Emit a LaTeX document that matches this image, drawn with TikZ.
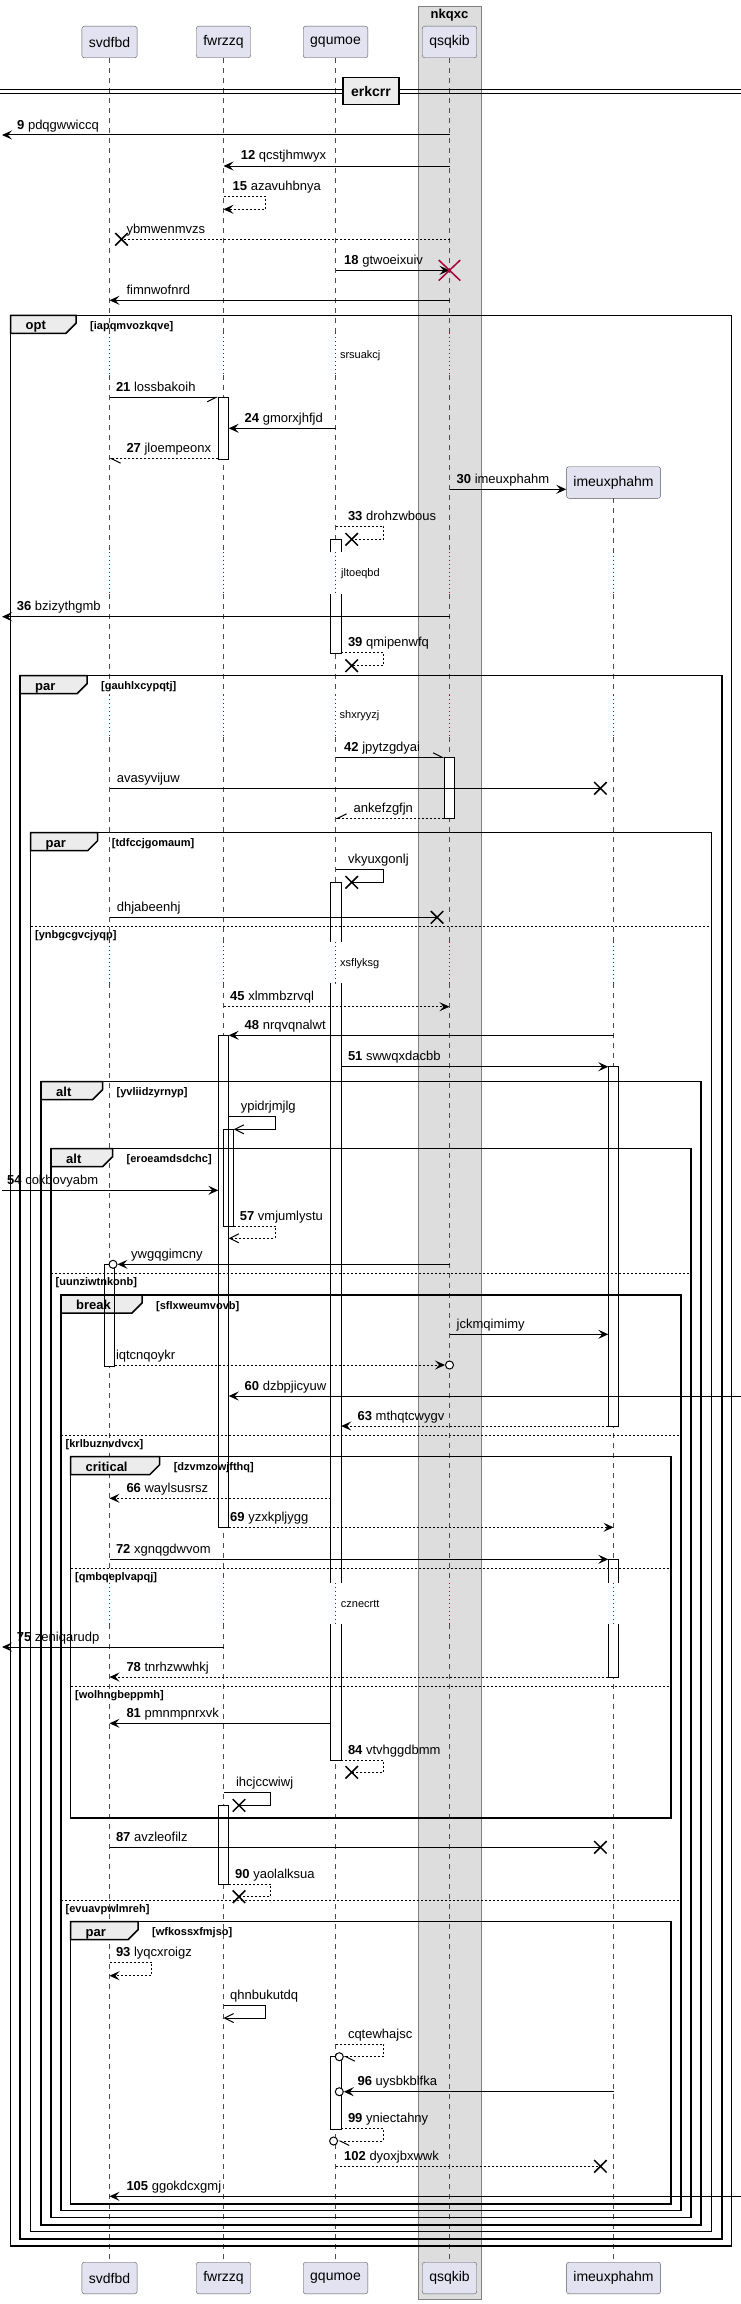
\documentclass[tikz,border=0pt]{standalone}
\usepackage{fontspec}
\setmainfont{Liberation Sans}
\usetikzlibrary{arrows.meta,shapes.misc}
\definecolor{ptfill}{RGB}{226,226,240}
\definecolor{delayred}{RGB}{168,0,54}
\definecolor{boxgray}{RGB}{221,221,221}
\begin{document}
\begin{tikzpicture}[x=1pt, y=-1pt,
    ptbox/.style={draw=gray!70!black, fill=ptfill, rounded corners=2.5pt, minimum height=31.6pt, inner xsep=7pt, inner ysep=0pt, font=\fontsize{14}{16}\selectfont},
    lifeline/.style={draw=gray!60!black, line width=0.7pt, dash pattern=on 5pt off 5pt},
    delayline/.style={draw=delayred, line width=0.8pt, dash pattern=on 1pt off 3pt},
    actfill/.style={fill=white, minimum width=10pt, inner sep=0pt, anchor=north},
    actline/.style={draw, line width=1pt},
    msg/.style={line width=1pt, -{Stealth[length=10pt,width=9pt,inset=4pt]}},
    ret/.style={msg, dash pattern=on 2pt off 2pt},
    link/.style={line width=1pt},
    retlink/.style={link, dash pattern=on 2pt off 2pt},
    openmsg/.style={line width=1pt, -{Straight Barb[length=9pt,width=9pt]}},
    hl/.style={line width=1pt, -{Straight Barb[harpoon,length=9pt,width=9pt]}},
    hr/.style={line width=1pt, -{Straight Barb[harpoon,swap,length=9pt,width=9pt]}},
    xmk/.style={cross out, draw, line width=1.5pt, minimum width=11pt, minimum height=11pt, inner sep=0pt},
    xred/.style={xmk, draw=delayred, minimum width=20pt, minimum height=19pt},
    circ/.style={circle, draw, fill=white, line width=1pt, minimum size=8pt, inner sep=0pt},
    lbl/.style={anchor=base west, inner sep=0pt, font=\fontsize{13}{15}\selectfont},
    delaytxt/.style={anchor=west, inner sep=0pt, font=\fontsize{11}{13}\selectfont},
    grp/.style={draw, line width=1.5pt},
    grptab/.style={draw, line width=1.5pt, fill=gray!15},
    grplbl/.style={anchor=base west, inner sep=0pt, font=\bfseries\fontsize{13}{15}\selectfont},
    guard/.style={anchor=base west, inner sep=0pt, font=\bfseries\fontsize{11}{13}\selectfont},
    elseline/.style={line width=1pt, dash pattern=on 2pt off 2pt}]
\useasboundingbox (0,0) rectangle (741,2304);
\coordinate (edgeL) at (2,0);
\coordinate (edgeR) at (741,0);

% box round qsqkib
\draw[fill=boxgray, draw=gray] (418,6) rectangle (481,2299);
\node[font=\bfseries\fontsize{13}{15}\selectfont] (nkqxc) at (449.5,15) {nkqxc};

% participants
\node[ptbox] (svdfbd) at (109.5,42) {svdfbd};
\node[ptbox] (fwrzzq) at (223.5,42) {fwrzzq};
\node[ptbox] (gqumoe) at (335.5,42) {gqumoe};
\node[ptbox] (qsqkib) at (449.5,42) {qsqkib};
\node[ptbox] (imeuxphahm) at (613.5,482.5) {imeuxphahm};

% lifelines, dotted where the delays are
\foreach \p in {svdfbd,fwrzzq,gqumoe,qsqkib} {
  \foreach \ya/\yb in {57.8/333.3,375/551.7,594/695,737/941.7,983.3/1582.7,1624/2262}
    \draw[lifeline] (\p |- 0,\ya) -- (\p |- 0,\yb);
  \draw[delayline] (\p |- 0,333.3) -- (\p |- 0,375);
}
\foreach \p in {svdfbd,fwrzzq,gqumoe,qsqkib,imeuxphahm}
  \foreach \ya/\yb in {551.7/594,695/737,941.7/983.3,1582.7/1624}
    \draw[delayline] (\p |- 0,\ya) -- (\p |- 0,\yb);
\foreach \ya/\yb in {498.3/551.7,594/695,737/941.7,983.3/1582.7,1624/2262}
  \draw[lifeline] (imeuxphahm |- 0,\ya) -- (imeuxphahm |- 0,\yb);

\node[ptbox] (svdfbdB) at (109.5,2278) {svdfbd};
\node[ptbox] (fwrzzqB) at (223.5,2278) {fwrzzq};
\node[ptbox] (gqumoeB) at (335.5,2278) {gqumoe};
\node[ptbox] (qsqkibB) at (449.5,2278) {qsqkib};
\node[ptbox] (imeuxphahmB) at (613.5,2278) {imeuxphahm};

% divider
\draw[line width=1pt] (0,89.3) -- (741,89.3) (0,93.3) -- (741,93.3);
\node[draw, line width=1.5pt, fill=gray!15, minimum width=56pt, minimum height=26.6pt, inner sep=0pt, font=\bfseries\fontsize{14}{16}\selectfont] (erkcrr) at (371,91) {erkcrr};

% activations
\node[actfill, minimum height=61.4pt] (aF1) at (fwrzzq |- 0,397.3) {};
\node[actfill, minimum height=12.4pt] (aG1a) at (336,539.3) {};
\node[actfill, minimum height=59.3pt] (aG1b) at (336,594) {};
\node[actfill, minimum height=61pt] (aQ1) at (qsqkib |- 0,757.3) {};
\node[actfill, minimum height=59.4pt] (aG2a) at (336,882.3) {};
\node[actfill, minimum height=599.4pt] (aG2b) at (336,983.3) {};
\node[actfill, minimum height=136.3pt] (aG2c) at (336,1624) {};
\node[actfill, minimum height=492pt] (aF2) at (fwrzzq |- 0,1035.3) {};
\node[actfill, minimum height=96.7pt] (aF3) at (228.5,1129.3) {};
\node[actfill, minimum height=359.3pt] (aI1) at (imeuxphahm |- 0,1066.7) {};
\node[actfill, minimum height=102pt] (aS1) at (svdfbd |- 0,1264) {};
\node[actfill, minimum height=23.4pt] (aI2a) at (imeuxphahm |- 0,1559.3) {};
\node[actfill, minimum height=53pt] (aI2b) at (imeuxphahm |- 0,1624) {};
\node[actfill, minimum height=78.3pt] (aF4) at (fwrzzq |- 0,1805.7) {};
\node[actfill, minimum height=72.3pt] (aG3) at (336,2056.7) {};

% groups
\foreach \i/\xa/\ya/\xb/\yb/\kw/\xt/\gd in {
    1/10.5/315.3/731.4/2246/opt/76/[iapqmvozkqve],
    2/20/675.7/722/2239/par/87/[gauhlxcypqtj],
    3/30.5/832.7/711.4/2231.7/par/97.7/[tdfccjgomaum],
    4/41/1081.7/701/2225/alt/102.5/[yvliidzyrnyp],
    5/51/1148.7/691/2217.7/alt/112.5/[eroeamdsdchc],
    6/61/1295/681/2210.7/break/142/[sflxweumvovb],
    7/70.5/1456.7/671/1818/critical/159.6/[dzvmzowjfthq],
    8/70.5/1921.7/671/2204/par/138/[wfkossxfmjso]} {
  \draw[grp] (\xa,\ya) rectangle (\xb,\yb);
  \filldraw[grptab] (\xa,\ya) -- (\xt,\ya) -- (\xt,\ya+8) -- (\xt-10,\ya+18) -- (\xa,\ya+18) -- cycle;
  \node[grplbl] (kw\i) at (\xa+15,\ya+14.5) {\kw};
  \node[guard] (gd\i) at (\xt+14,\ya+14) {\gd};
}
\foreach \i/\xa/\xb/\ye/\gd in {
    1/30.5/711.4/926/[ynbgcgvcjyqp],
    2/51/691/1273/[uunziwtnkonb],
    3/61/681/1435/[krlbuznvdvcx],
    4/70.5/671/1568.3/[qmbqeplvapqj],
    5/70.5/671/1686/[wolhngbeppmh],
    6/61/681/1900.7/[evuavpwlmreh]} {
  \draw[elseline] (\xa,\ye) -- (\xb,\ye);
  \node[guard] (el\i) at (\xa+4.5,\ye+12) {\gd};
}

% activation outlines
\foreach \a in {aF1,aQ1,aF2,aF3,aI1,aS1,aF4,aG3}
  \draw[actline] (\a.north west) rectangle (\a.south east);
\foreach \a in {aG1a,aG2a,aI2a}
  \draw[actline] (\a.south west) -- (\a.north west) -- (\a.north east) -- (\a.south east);
\foreach \a in {aG1b,aG2c,aI2b}
  \draw[actline] (\a.north west) -- (\a.south west) -- (\a.south east) -- (\a.north east);
\draw[actline] (aG2b.north west) -- (aG2b.south west) (aG2b.north east) -- (aG2b.south east);

% messages
\draw[msg] (qsqkib |- 0,135) -- (edgeL |- 0,135);
\node[lbl] (m9) at (17,129) {\textbf{9} pdqgwwiccq};
\draw[msg] (qsqkib |- 0,166) -- (fwrzzq |- 0,166);
\node[lbl] (m12) at (240.6,160) {\textbf{12} qcstjhmwyx};
\draw[ret] (fwrzzq |- 0,196) -- ++(41.5,0) -- ++(0,13.3) -- (fwrzzq |- 0,209.3);
\node[lbl] (m15) at (232.5,190) {\textbf{15} azavuhbnya};
\node[xmk] (xA) at (121.5,239.3) {};
\draw[retlink] (qsqkib |- 0,239.3) -- (xA.center);
\node[lbl] (ybmwenmvzs) at (126.3,233.3) {ybmwenmvzs};
\draw[msg] (gqumoe |- 0,270.3) -- (qsqkib |- 0,270.3);
\node[xred] (xQ) at (449.5,270.3) {};
\node[lbl] (m18) at (344,264.3) {\textbf{18} gtwoeixuiv};
\draw[msg] (qsqkib |- 0,300.3) -- (svdfbd |- 0,300.3);
\node[lbl] (fimnwofnrd) at (126.3,294.3) {fimnwofnrd};

\draw[hr] (svdfbd |- 0,397.3) -- (aF1.west |- 0,397.3);
\node[lbl] (m21) at (115.8,391.3) {\textbf{21} lossbakoih};
\draw[msg] (gqumoe |- 0,428.3) -- (aF1.east |- 0,428.3);
\node[lbl] (m24) at (244.5,422.3) {\textbf{24} gmorxjhfjd};
\draw[hl, dash pattern=on 2pt off 2pt] (aF1.west |- 0,458.7) -- (svdfbd |- 0,458.7);
\node[lbl] (m27) at (126.3,452.7) {\textbf{27} jloempeonx};
\draw[msg] (qsqkib |- 0,489.3) -- (imeuxphahm.west |- 0,489.3);
\node[lbl] (m30) at (456.5,483.3) {\textbf{30} imeuxphahm};
\node[xmk] (xB) at (351.7,539.3) {};
\draw[retlink] (gqumoe |- 0,526) -- ++(48,0) -- ++(0,13.3) -- (xB.center);
\node[lbl] (m33) at (347.8,520) {\textbf{33} drohzwbous};
\draw[msg] (qsqkib |- 0,616.7) -- (edgeL |- 0,616.7);
\node[lbl] (m36) at (16.7,610.7) {\textbf{36} bzizythgmb};
\node[xmk] (xC) at (351.7,665.7) {};
\draw[retlink] (aG1b.east |- 0,652.3) -- (383.6,652.3) -- (383.6,665.7) -- (xC.center);
\node[lbl] (m39) at (347.8,646.3) {\textbf{39} qmipenwfq};

\draw[hl] (gqumoe |- 0,757.3) -- (aQ1.west |- 0,757.3);
\node[lbl] (m42) at (344,751.3) {\textbf{42} jpytzgdyai};
\node[xmk] (xD) at (600.4,788.3) {};
\draw[link] (svdfbd |- 0,788.3) -- (xD.center);
\node[lbl] (avasyvijuw) at (116.7,782.3) {avasyvijuw};
\draw[hr, dash pattern=on 2pt off 2pt] (aQ1.west |- 0,818.3) -- (gqumoe |- 0,818.3);
\node[lbl] (ankefzgfjn) at (353.5,812.3) {ankefzgfjn};
\node[xmk] (xE) at (351.7,882.3) {};
\draw[link] (gqumoe |- 0,869.3) -- (383.6,869.3) -- (383.6,882.3) -- (xE.center);
\node[lbl] (vkyuxgonlj) at (347.8,863.3) {vkyuxgonlj};
\node[xmk] (xF) at (437,917.3) {};
\draw[link] (svdfbd |- 0,917.3) -- (xF.center);
\node[lbl] (dhjabeenhj) at (116.7,911.3) {dhjabeenhj};

\draw[ret] (fwrzzq |- 0,1006.7) -- (qsqkib |- 0,1006.7);
\node[lbl] (m45) at (230,1000.7) {\textbf{45} xlmmbzrvql};
\draw[msg] (imeuxphahm |- 0,1035.3) -- (aF2.east |- 0,1035.3);
\node[lbl] (m48) at (244.5,1029.3) {\textbf{48} nrqvqnalwt};
\draw[msg] (aG2b.east |- 0,1066.7) -- (aI1.west |- 0,1066.7);
\node[lbl] (m51) at (347.8,1060.7) {\textbf{51} swwqxdacbb};
\draw[openmsg] (aF2.east |- 0,1116) -- (275.4,1116) -- (275.4,1129.3) -- (aF3.east |- 0,1129.3);
\node[lbl] (ypidrjmjlg) at (240.6,1110) {ypidrjmjlg};
\draw[msg] (edgeL |- 0,1190.3) -- (aF2.west |- 0,1190.3);
\node[lbl] (m54) at (7,1184.3) {\textbf{54} cokbovyabm};
\draw[openmsg, dash pattern=on 2pt off 2pt] (aF3.east |- 0,1226) -- (275.4,1226) -- (275.4,1238.3) -- (aF2.east |- 0,1238.3);
\node[lbl] (m57) at (239.7,1220) {\textbf{57} vmjumlystu};
\node[circ] (cA) at (113,1264.3) {};
\draw[msg] (qsqkib |- 0,1264.3) -- (cA.east);
\node[lbl] (ywgqgimcny) at (131,1258.3) {ywgqgimcny};

\draw[msg] (qsqkib |- 0,1334.3) -- (aI1.west |- 0,1334.3);
\node[lbl] (jckmqimimy) at (456.5,1328.3) {jckmqimimy};
\node[circ] (cB) at (449.5,1365) {};
\draw[ret] (aS1.east |- 0,1365) -- (cB.west);
\node[lbl] (iqtcnqoykr) at (115.8,1359) {iqtcnqoykr};
\draw[msg] (edgeR |- 0,1396) -- (aF2.east |- 0,1396);
\node[lbl] (m60) at (244.5,1390) {\textbf{60} dzbpjicyuw};
\draw[ret] (aI1.west |- 0,1426) -- (aG2b.east |- 0,1426);
\node[lbl] (m63) at (357.4,1420) {\textbf{63} mthqtcwygv};

\draw[ret] (aG2b.west |- 0,1498.3) -- (svdfbd |- 0,1498.3);
\node[lbl] (m66) at (126.3,1492.3) {\textbf{66} waylsusrsz};
\draw[ret] (aF2.east |- 0,1527.3) -- (imeuxphahm |- 0,1527.3);
\node[lbl] (m69) at (230,1521.3) {\textbf{69} yzxkpljygg};
\draw[msg] (svdfbd |- 0,1559.3) -- (aI2a.west |- 0,1559.3);
\node[lbl] (m72) at (115.8,1553.3) {\textbf{72} xgnqgdwvom};
\draw[msg] (fwrzzq |- 0,1647) -- (edgeL |- 0,1647);
\node[lbl] (m75) at (16.7,1641) {\textbf{75} zeniqarudp};
\draw[ret] (aI2b.west |- 0,1677) -- (svdfbd |- 0,1677);
\node[lbl] (m78) at (126.3,1671) {\textbf{78} tnrhzwwhkj};
\draw[msg] (aG2c.west |- 0,1723.3) -- (svdfbd |- 0,1723.3);
\node[lbl] (m81) at (126.3,1717.3) {\textbf{81} pmnmpnrxvk};
\node[xmk] (xG) at (351.7,1772.3) {};
\draw[retlink] (aG2c.east |- 0,1760) -- (383.6,1760) -- (383.6,1772.3) -- (xG.center);
\node[lbl] (m84) at (347.8,1754) {\textbf{84} vtvhggdbmm};
\node[xmk] (xH) at (239,1805.3) {};
\draw[link] (fwrzzq |- 0,1792.7) -- (270.7,1792.7) -- (270.7,1805.3) -- (xH.center);
\node[lbl] (ihcjccwiwj) at (235.9,1786.7) {ihcjccwiwj};

\node[xmk] (xI) at (600.4,1847.3) {};
\draw[link] (svdfbd |- 0,1847.3) -- (xI.center);
\node[lbl] (m87) at (115.8,1841.3) {\textbf{87} avzleofilz};
\node[xmk] (xJ) at (239,1896.7) {};
\draw[retlink] (aF4.east |- 0,1884) -- (270.7,1884) -- (270.7,1896.7) -- (xJ.center);
\node[lbl] (m90) at (235,1878) {\textbf{90} yaolalksua};

\draw[ret] (svdfbd |- 0,1962.3) -- ++(42,0) -- ++(0,13.4) -- (svdfbd |- 0,1975.7);
\node[lbl] (m93) at (115.8,1956.3) {\textbf{93} lyqcxroigz};
\draw[openmsg] (fwrzzq |- 0,2005.3) -- ++(42,0) -- ++(0,12.7) -- (fwrzzq |- 0,2018);
\node[lbl] (qhnbukutdq) at (230,1999.3) {qhnbukutdq};
\node[circ] (cC) at (339.3,2056.7) {};
\draw[hl, dash pattern=on 2pt off 2pt] (gqumoe |- 0,2044.3) -- (383.6,2044.3) -- (383.6,2056.7) -- (cC.east);
\node[lbl] (cqtewhajsc) at (347.8,2038.3) {cqtewhajsc};
\node[circ] (cD) at (339.3,2091.7) {};
\draw[msg] (imeuxphahm |- 0,2091.7) -- (cD.east);
\node[lbl] (m96) at (357.4,2085.7) {\textbf{96} uysbkblfka};
\node[circ] (cE) at (333.6,2141) {};
\draw[hl, dash pattern=on 2pt off 2pt] (aG3.east |- 0,2128.7) -- (383.6,2128.7) -- (383.6,2141) -- (cE.east);
\node[lbl] (m99) at (347.8,2122.7) {\textbf{99} yniectahny};
\node[xmk] (xK) at (600.4,2166.3) {};
\draw[retlink] (gqumoe |- 0,2166.3) -- (xK.center);
\node[lbl] (m102) at (344,2160.3) {\textbf{102} dyoxjbxwwk};
\draw[msg] (edgeR |- 0,2196.3) -- (svdfbd |- 0,2196.3);
\node[lbl] (m105) at (126.3,2190.3) {\textbf{105} ggokdcxgmj};

% delays
\node[delaytxt] (srsuakcj) at (339.8,355.7) {srsuakcj};
\node[delaytxt] (jltoeqbd) at (341,574) {jltoeqbd};
\node[delaytxt] (shxryyzj) at (339.5,716) {shxryyzj};
\node[delaytxt] (xsflyksg) at (340,964) {xsflyksg};
\node[delaytxt] (cznecrtt) at (340.7,1604.3) {cznecrtt};
\end{tikzpicture}
\end{document}
